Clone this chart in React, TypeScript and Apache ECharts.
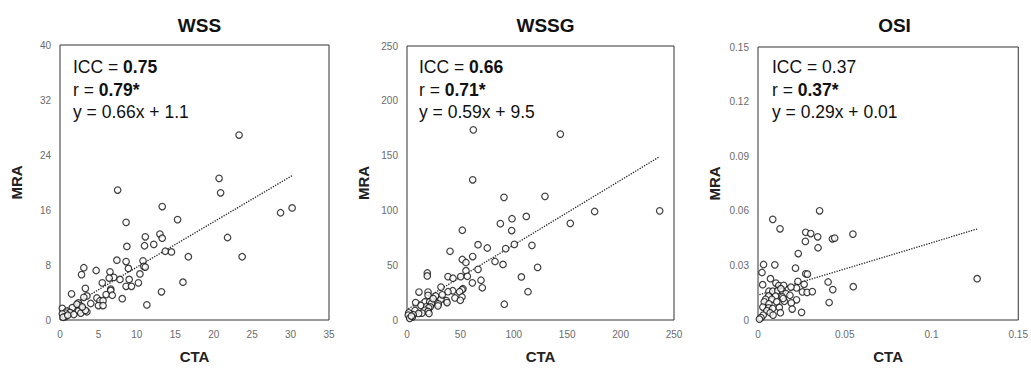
import React, { useEffect, useRef } from "react";
import * as echarts from "echarts";

// ---------- Data ----------
const titles = ["WSS", "WSSG", "OSI"];

const wssX = [23.3, 20.7, 20.9, 7.5, 13.3, 28.7, 30.2, 15.3, 8.6, 13.0, 11.1, 13.3, 21.8, 11.0, 12.2, 8.7, 13.7, 14.5, 16.7, 23.7, 7.4, 8.6, 10.8, 10.9, 11.1, 8.9, 3.1, 4.7, 6.5, 2.8, 7.0, 6.4, 7.8, 9.0, 10.4, 10.2, 5.5, 8.6, 9.3, 16.0, 3.3, 6.6, 6.6, 13.2, 1.5, 6.0, 6.8, 3.5, 3.1, 4.8, 8.1, 5.2, 5.6, 2.4, 4.0, 5.0, 5.6, 11.3, 2.6, 3.0, 1.6, 2.4, 3.5, 2.7, 0.3, 0.9, 1.3, 0.7, 0.3, 1.8, 0.7, 0.4, 3.3, 1.0, 2.2, 2.9];
const wssY = [26.9, 20.6, 18.5, 18.9, 16.5, 15.6, 16.3, 14.6, 14.2, 12.5, 12.1, 11.9, 12.0, 10.8, 11.0, 10.7, 10.0, 9.9, 9.2, 9.2, 8.7, 8.5, 8.6, 7.8, 7.7, 7.5, 7.6, 7.2, 7.0, 6.6, 6.2, 6.1, 5.9, 5.9, 6.7, 5.4, 5.4, 4.9, 4.9, 5.5, 4.6, 4.5, 4.3, 4.1, 3.8, 3.7, 3.6, 3.5, 3.3, 3.2, 3.1, 2.8, 2.8, 2.5, 2.4, 2.1, 2.1, 2.2, 2.1, 1.6, 1.8, 1.3, 1.2, 1.0, 1.7, 1.3, 1.1, 1.0, 0.9, 0.8, 0.5, 0.4, 1.4, 0.7, 2.3, 1.9];

const wssgX = [62.1, 143.6, 61.5, 90.8, 129.2, 236.6, 175.7, 111.7, 98.3, 152.9, 87.4, 51.8, 98.0, 66.5, 100.5, 117.0, 75.2, 92.4, 40.3, 61.5, 51.8, 55.2, 82.4, 89.9, 122.3, 19.0, 19.0, 66.5, 55.2, 38.4, 43.1, 50.3, 56.5, 107.1, 69.3, 61.2, 31.8, 70.5, 52.4, 51.5, 49.3, 42.8, 38.4, 11.2, 19.7, 113.3, 19.7, 26.8, 44.9, 51.5, 49.9, 36.8, 37.5, 31.8, 91.1, 8.1, 16.9, 21.2, 26.5, 29.3, 29.0, 22.8, 13.1, 18.4, 21.8, 20.3, 16.9, 7.5, 19.7, 20.6, 14.0, 10.9, 5.9, 1.6, 1.2, 5.0, 2.5, 4.1, 24.5, 33.0];
const wssgY = [173.5, 169.6, 127.9, 111.9, 112.8, 99.6, 99.0, 94.5, 92.4, 88.2, 87.9, 81.9, 81.6, 68.7, 69.0, 68.1, 65.7, 65.1, 62.7, 57.9, 55.2, 52.5, 53.4, 50.7, 48.0, 42.9, 40.2, 46.2, 45.0, 39.6, 38.1, 39.6, 39.9, 39.3, 36.3, 33.9, 30.0, 29.4, 28.5, 27.6, 25.8, 26.7, 25.8, 25.5, 25.5, 25.8, 22.5, 21.9, 20.1, 21.0, 18.0, 17.7, 15.9, 18.9, 14.4, 15.9, 16.5, 16.5, 15.9, 14.7, 12.9, 15.0, 13.2, 12.3, 12.0, 11.1, 9.0, 8.7, 7.8, 6.0, 6.3, 6.0, 4.8, 6.6, 4.5, 2.7, 1.5, 3.6, 19.5, 23.0];

const osiX = [0.0355, 0.0085, 0.0127, 0.0275, 0.0304, 0.0547, 0.0344, 0.0429, 0.0442, 0.0273, 0.0346, 0.0232, 0.0032, 0.0097, 0.0216, 0.0023, 0.0275, 0.0285, 0.1263, 0.0072, 0.023, 0.0404, 0.0266, 0.0027, 0.0103, 0.0549, 0.012, 0.0148, 0.0222, 0.019, 0.0431, 0.0256, 0.0283, 0.0313, 0.0063, 0.0085, 0.0114, 0.0142, 0.0161, 0.0184, 0.0061, 0.0101, 0.014, 0.0044, 0.008, 0.0222, 0.041, 0.0036, 0.0108, 0.0152, 0.0192, 0.0063, 0.0028, 0.0061, 0.0085, 0.0123, 0.0197, 0.0051, 0.007, 0.0129, 0.0251, 0.0087, 0.003, 0.0017, 0.0008, 0.0132, 0.0145];
const osiY = [0.06, 0.0553, 0.0501, 0.0482, 0.0475, 0.0472, 0.0457, 0.0446, 0.045, 0.0432, 0.0397, 0.0365, 0.0305, 0.0303, 0.0285, 0.0261, 0.0254, 0.0252, 0.0227, 0.0227, 0.0212, 0.0209, 0.0196, 0.0194, 0.0203, 0.0183, 0.0189, 0.019, 0.0176, 0.0181, 0.0167, 0.0154, 0.0152, 0.0156, 0.0158, 0.0158, 0.0161, 0.0158, 0.0145, 0.0136, 0.0132, 0.0131, 0.0127, 0.0114, 0.0114, 0.0111, 0.0096, 0.01, 0.01, 0.0103, 0.0094, 0.0089, 0.0071, 0.0067, 0.0063, 0.0069, 0.006, 0.0051, 0.004, 0.004, 0.0042, 0.0027, 0.0027, 0.0013, 0.0005, 0.0172, 0.0118];

// Regression line endpoints
const wssTrendX = [0.3, 30.2];
const wssTrendY = [1.3, 21.0];
const wssgTrendX = [1.2, 236.6];
const wssgTrendY = [10.2, 149.1];
const osiTrendX = [0.0008, 0.1263];
const osiTrendY = [0.0139, 0.05];

// Axis ranges and tick intervals
const xMax = [35, 250, 0.15];
const xInterval = [5, 50, 0.05];
const yMax = [40, 250, 0.15];
const yInterval = [8, 50, 0.03];

// Annotation texts
const iccLabels = ["0.75", "0.66", "0.37"];
const iccBold = [true, true, false];
const rLabels = ["0.79*", "0.71*", "0.37*"];
const eqLabels = ["y = 0.66x + 1.1", "y = 0.59x + 9.5", "y = 0.29x + 0.01"];

// ---------- Layout ----------
const grids = [
  { left: 60, top: 45, width: 269, height: 277 },
  { left: 407, top: 46, width: 267, height: 277 },
  { left: 758, top: 47, width: 263, height: 275 },
];
const annoX = [73, 419, 772];

const pairs = (xs: number[], ys: number[]) => xs.map((x, i) => [x, ys[i]]);

export default function App() {
  const ref = useRef<HTMLDivElement>(null);
  useEffect(() => {
    if (!ref.current) return;
    const chart = echarts.init(ref.current, null, { renderer: "svg" });
    const scatterSets = [pairs(wssX, wssY), pairs(wssgX, wssgY), pairs(osiX, osiY)];
    const trendSets = [
      pairs(wssTrendX, wssTrendY),
      pairs(wssgTrendX, wssgTrendY),
      pairs(osiTrendX, osiTrendY),
    ];
    const fmt = (v: number) => {
      if (v === 0) return "0";
      return String(parseFloat(v.toFixed(4)));
    };
    const fmtY = (i: number) => (v: number) => {
      if (v === 0) return "0";
      if (i === 2) return v.toFixed(2);
      return String(Math.round(v));
    };
    const tickLabel = {
      color: "#6b6b6b",
      fontSize: 10,
      fontFamily: "Liberation Sans Narrow, Liberation Sans, Arial, sans-serif",
    };
    const nameStyle = {
      color: "#222",
      fontSize: 15,
      fontWeight: "bold" as const,
      fontFamily: "Liberation Sans, Arial, sans-serif",
    };

    const graphic: any[] = [];
    for (let i = 0; i < 3; i++) {
      const base = { fontSize: 17.5, fontFamily: "Liberation Sans, Arial, sans-serif", fill: "#111" };
      graphic.push({
        type: "text",
        left: annoX[i],
        top: 58,
        style: {
          text: "{n|ICC = }{" + (iccBold[i] ? "b" : "n") + "|" + iccLabels[i] + "}",
          rich: {
            n: { ...base, fontWeight: "normal" },
            b: { ...base, fontWeight: "bold" },
          },
        },
      });
      graphic.push({
        type: "text",
        left: annoX[i],
        top: 80.5,
        style: {
          text: "{n|r = }{b|" + rLabels[i] + "}",
          rich: {
            n: { ...base, fontWeight: "normal" },
            b: { ...base, fontWeight: "bold" },
          },
        },
      });
      graphic.push({
        type: "text",
        left: annoX[i],
        top: 103,
        style: { text: eqLabels[i], ...base },
      });
    }

    chart.setOption({
      animation: false,
      backgroundColor: "#fff",
      title: titles.map((t, i) => ({
        text: t,
        left: grids[i].left + grids[i].width / 2,
        top: 11,
        textAlign: "center",
        textStyle: {
          fontSize: 19,
          fontWeight: "bold",
          color: "#111",
          fontFamily: "Liberation Sans, Arial, sans-serif",
        },
      })),
      grid: grids.map((g) => ({
        ...g,
        show: true,
        borderColor: "#333",
        borderWidth: 1,
        backgroundColor: "transparent",
        containLabel: false,
      })),
      xAxis: grids.map((_, i) => ({
        type: "value",
        gridIndex: i,
        min: 0,
        max: xMax[i],
        interval: xInterval[i],
        name: "CTA",
        nameLocation: "middle",
        nameGap: 29,
        nameTextStyle: nameStyle,
        axisLine: { show: false },
        axisTick: { show: false },
        splitLine: { show: false },
        axisLabel: { ...tickLabel, margin: 9, formatter: fmt },
      })),
      yAxis: grids.map((_, i) => ({
        type: "value",
        gridIndex: i,
        min: 0,
        max: yMax[i],
        interval: yInterval[i],
        name: "MRA",
        nameLocation: "middle",
        nameGap: 36,
        nameRotate: 90,
        nameTextStyle: nameStyle,
        axisLine: { show: false },
        axisTick: { show: false },
        splitLine: { show: false },
        axisLabel: { ...tickLabel, margin: 9, formatter: fmtY(i) },
      })),
      series: [
        ...scatterSets.map((d, i) => ({
          type: "scatter",
          xAxisIndex: i,
          yAxisIndex: i,
          data: d,
          symbol: "circle",
          symbolSize: 6.5,
          itemStyle: { color: "#fff", borderColor: "#111", borderWidth: 1.2 },
          z: 3,
        })),
        ...trendSets.map((d, i) => ({
          type: "line",
          xAxisIndex: i,
          yAxisIndex: i,
          data: d,
          symbol: "none",
          lineStyle: { color: "#222", width: 1.3, type: [1.3, 1.3] },
          z: 2,
        })),
      ],
      graphic,
    });
    return () => chart.dispose();
  }, []);
  return (
    <div
      ref={ref}
      style={{ position: "fixed", left: 0, top: 0, width: 1031, height: 369 }}
    />
  );
}
